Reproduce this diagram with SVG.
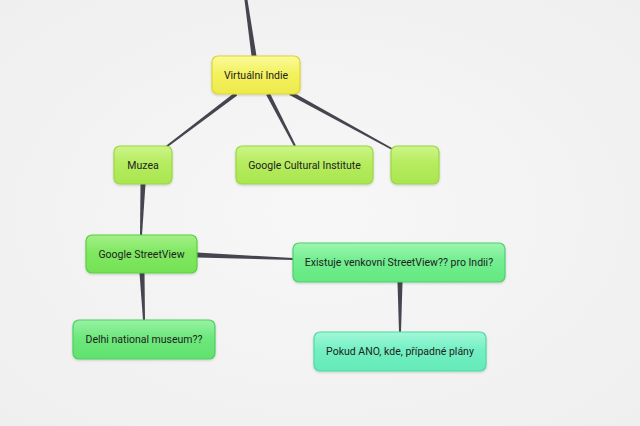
<svg xmlns="http://www.w3.org/2000/svg" width="640" height="426" viewBox="0 0 640 426">
<defs>
<linearGradient id="gy" x1="0" y1="0" x2="0" y2="1"><stop offset="0" stop-color="#fbfb9c"/><stop offset="0.45" stop-color="#f3f160"/><stop offset="1" stop-color="#eeea4c"/></linearGradient>
<linearGradient id="gl" x1="0" y1="0" x2="0" y2="1"><stop offset="0" stop-color="#cdf58a"/><stop offset="0.45" stop-color="#b6ec5e"/><stop offset="1" stop-color="#aae650"/></linearGradient>
<linearGradient id="gs" x1="0" y1="0" x2="0" y2="1"><stop offset="0" stop-color="#a4f088"/><stop offset="0.45" stop-color="#80e862"/><stop offset="1" stop-color="#74e254"/></linearGradient>
<linearGradient id="ge" x1="0" y1="0" x2="0" y2="1"><stop offset="0" stop-color="#9ef6b0"/><stop offset="0.45" stop-color="#72ee90"/><stop offset="1" stop-color="#64e880"/></linearGradient>
<linearGradient id="gd" x1="0" y1="0" x2="0" y2="1"><stop offset="0" stop-color="#98f2a4"/><stop offset="0.45" stop-color="#6ee87c"/><stop offset="1" stop-color="#60e26e"/></linearGradient>
<linearGradient id="gp" x1="0" y1="0" x2="0" y2="1"><stop offset="0" stop-color="#a2f8d8"/><stop offset="0.45" stop-color="#74f0c4"/><stop offset="1" stop-color="#64eab8"/></linearGradient>
<radialGradient id="bg" cx="0.5" cy="0.5" r="0.7"><stop offset="0" stop-color="#f7f7f7"/><stop offset="1" stop-color="#efefef"/></radialGradient>
<filter id="sh" x="-10%" y="-10%" width="120%" height="130%"><feDropShadow dx="0" dy="1" stdDeviation="1" flood-color="#000" flood-opacity="0.18"/></filter>
</defs>
<style>
.n rect{stroke-width:1.2;filter:url(#sh)}
.t{font-family:Roboto,"Liberation Sans",sans-serif;font-size:10.5px;fill:#222;text-anchor:middle;dominant-baseline:central}
.c polygon{fill:#45454f}
</style>
<rect width="640" height="426" fill="url(#bg)"/>
<g id="connectors" class="c">
<polygon points="244.5,0 247.5,0 256.5,56 251.5,56"/>
<polygon points="234.8,92.4 237.2,95.6 166.6,147.8 165.4,146.2"/>
<polygon points="269.8,93.1 266.2,94.9 294.1,146.5 295.9,145.5"/>
<polygon points="290.96,91.25 289.04,94.75 391.6,149.7 392.4,148.3"/>
<polygon points="140.5,184 145.5,184 142,235 140,235"/>
<polygon points="197,252.5 197,257.5 293,260 293,258"/>
<polygon points="139.5,273 144.5,273 145,320 143,320"/>
<polygon points="397.5,282 402.5,282 401,332 399,332"/>
</g>
<g id="n-virtualni" class="n"><rect x="212" y="56" width="88" height="38" rx="6" fill="url(#gy)" stroke="#dcd636"/><text class="t" x="256" y="75">Virtuální Indie</text></g>
<g id="n-muzea" class="n"><rect x="114" y="146" width="58" height="38" rx="6" fill="url(#gl)" stroke="#9cd844"/><text class="t" x="143" y="165">Muzea</text></g>
<g id="n-gci" class="n"><rect x="236" y="146" width="137" height="38" rx="6" fill="url(#gl)" stroke="#9cd844"/><text class="t" x="304.5" y="165">Google Cultural Institute</text></g>
<g id="n-empty" class="n"><rect x="391" y="146" width="48" height="38" rx="6" fill="url(#gl)" stroke="#9cd844"/></g>
<g id="n-streetview" class="n"><rect x="86" y="235" width="111" height="38" rx="6" fill="url(#gs)" stroke="#5cd040"/><text class="t" x="141.5" y="254">Google StreetView</text></g>
<g id="n-existuje" class="n"><rect x="293" y="243" width="212" height="39" rx="6" fill="url(#ge)" stroke="#50d070"/><text class="t" x="399" y="262.5">Existuje venkovní StreetView?? pro Indii?</text></g>
<g id="n-delhi" class="n"><rect x="73" y="320" width="142" height="39" rx="6" fill="url(#gd)" stroke="#4ed062"/><text class="t" x="144" y="339.5">Delhi national museum??</text></g>
<g id="n-pokud" class="n"><rect x="314" y="332" width="172" height="39" rx="6" fill="url(#gp)" stroke="#4edaa6"/><text class="t" x="400" y="351.5">Pokud ANO, kde, případné plány</text></g>
</svg>
